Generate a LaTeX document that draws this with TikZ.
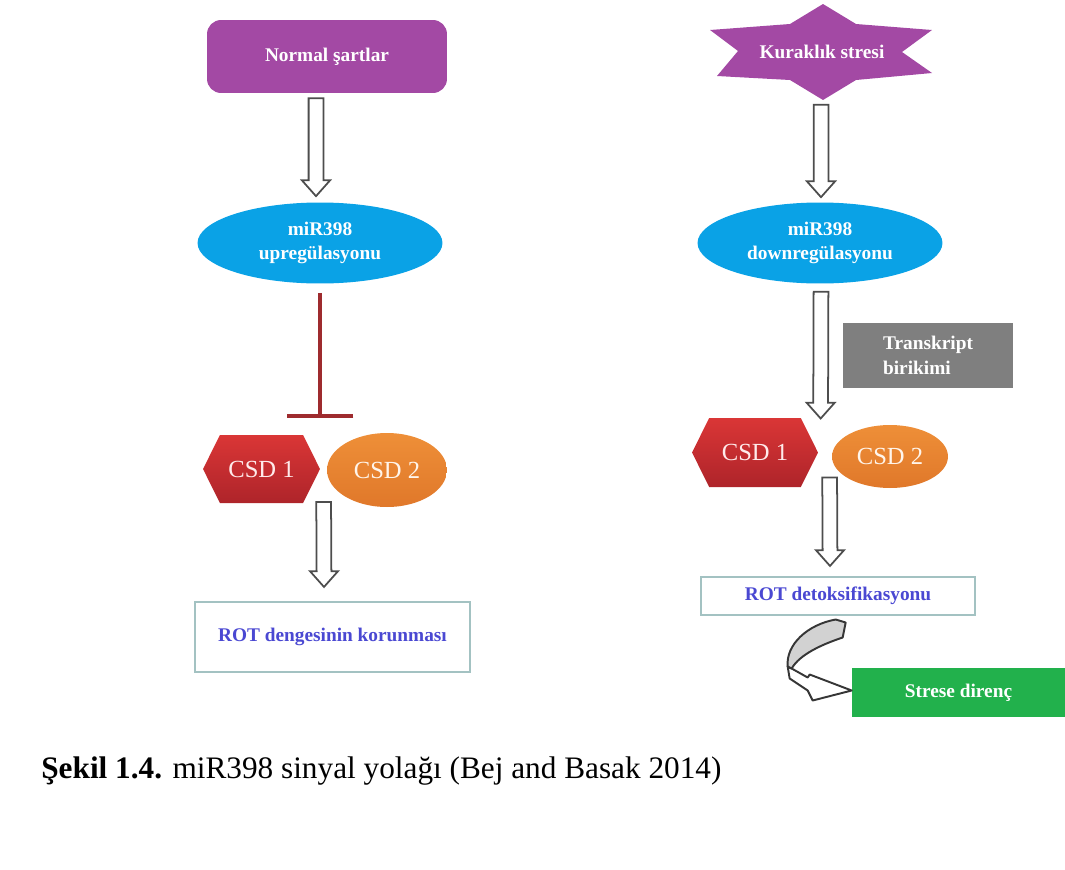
\documentclass[tikz,border=0pt]{standalone}
\usepackage{fontspec}
\setmainfont{Liberation Serif}
\usepackage{xcolor}
\usepackage{tikz}
\definecolor{mirPurple}{HTML}{A349A4}
\definecolor{mirBlue}{HTML}{0AA2E6}
\definecolor{csdRed}{HTML}{DA3636}
\definecolor{csdRedDark}{HTML}{AE242A}
\definecolor{csdOrange}{HTML}{EE8F38}
\definecolor{csdOrangeDark}{HTML}{E0782A}
\definecolor{inhibRed}{HTML}{9E2B2E}
\definecolor{arrowGray}{HTML}{4D4D4D}
\definecolor{boxTeal}{HTML}{A3C2C2}
\definecolor{rotBlue}{HTML}{4A48D2}
\definecolor{transGray}{HTML}{7F7F7F}
\definecolor{stressGreen}{HTML}{22B14C}
\usetikzlibrary{arrows.meta,positioning,shapes.geometric,shapes.symbols,calc}

\begin{document}
\begin{tikzpicture}[
  x=0.02cm, y=-0.02cm,
  >=Latex,
  label/.style={font=\fontsize{11}{14}\selectfont\bfseries, text=white, align=center, inner sep=0pt},
  startbox/.style={label, fill=mirPurple, rounded corners=8pt, minimum width=4.8cm, minimum height=1.46cm},
  mirnode/.style={label, ellipse, fill=mirBlue, minimum width=4.9cm, minimum height=1.62cm},
  csdhex/.style={signal, signal to=west and east, signal pointer angle=127,
    top color=csdRed, bottom color=csdRedDark, text=white!92!red,
    font=\fontsize{14}{16}\selectfont, minimum width=2.34cm, minimum height=1.36cm, inner sep=0pt},
  csdoval/.style={ellipse, top color=csdOrange, bottom color=csdOrangeDark, text=white!92!orange,
    font=\fontsize{14}{16}\selectfont, minimum width=2.4cm, minimum height=1.48cm, inner sep=0pt},
  rotbox/.style={draw=boxTeal, line width=1.2pt, text=rotBlue,
    font=\fontsize{11}{14}\selectfont\bfseries, inner sep=0pt},
  blockarrow/.style={draw=arrowGray, fill=white, line width=1pt, line join=miter,
    to path={([xshift=-4.2pt]\tikztostart) -- ([xshift=-4.2pt,yshift=9pt]\tikztotarget)
      -- ([xshift=-8pt,yshift=9pt]\tikztotarget) -- (\tikztotarget)
      -- ([xshift=8pt,yshift=9pt]\tikztotarget) -- ([xshift=4.2pt,yshift=9pt]\tikztotarget)
      -- ([xshift=4.2pt]\tikztostart) -- cycle}},
  inhibit/.style={draw=inhibRed, line width=2pt, -{Bar[width=38pt]}}
]
\useasboundingbox (0,0) rectangle (1065,869);

% left column: normal conditions
\node[startbox] (normal) at (327,56.5) {Normal şartlar};
\node[mirnode] (upreg) at (320,243) {miR398\\upregülasyonu};
\node[csdhex] (csd1l) at (261.5,469) {CSD 1};
\node[csdoval] (csd2l) at (387,470) {CSD 2};
\node[rotbox, minimum width=5.5cm, minimum height=1.4cm] (rotl) at (332.5,637) {ROT dengesinin korunması};

% right column: drought stress
\fill[mirPurple, shift={(822,52)}] (1,-48) -- (-32,-28) -- (-112,-22) -- (-84,-1) -- (-105,24)
  -- (-32,28) -- (1,48) -- (34,28) -- (110,21) -- (80,0) -- (110,-22) -- (34,-28) -- cycle;
\node[label, minimum width=4.54cm, minimum height=1.94cm] (stres) at (822,52) {Kuraklık stresi};
\node[mirnode] (downreg) at (820,243) {miR398\\downregülasyonu};
\node[label, align=left, fill=transGray, minimum width=3.4cm, minimum height=1.3cm] (transkript) at (928,355.5) {Transkript\\birikimi};
\node[csdhex, minimum width=2.52cm, minimum height=1.38cm] (csd1r) at (755,452.5) {CSD 1};
\node[csdoval, minimum width=2.32cm, minimum height=1.26cm] (csd2r) at (890,456.5) {CSD 2};
\node[rotbox, minimum width=5.48cm, minimum height=0.76cm] (rotdet) at (838,596) {ROT detoksifikasyonu};
\node[label, fill=stressGreen, minimum width=4.26cm, minimum height=0.98cm] (strese) at (958.5,692.5) {Strese direnç};

% arrows
\draw[blockarrow] ($(normal.south)+(-11,5)$) to ($(upreg.north)+(-4,-6)$);
\draw[inhibit] ($(upreg.south)+(0,9)$) -- ($(upreg.south |- csd1l.north)+(0,-17)$);
\draw[blockarrow] ($(csd2l.west)+(-3,32)$) to ($(rotl.north)+(-8.5,-14)$);
\draw[blockarrow] ($(stres.south)+(-1,4)$) to ($(downreg.north)+(1,-5)$);
\draw[blockarrow] ($(downreg.south)+(1,8)$) to ($(csd2r.west)+(-11,-38)$);
\draw[blockarrow] ($(csd2r.west)+(-2,21)$) to ($(rotdet.north)+(-8,-10)$);

% curved arrow to the green box
\begin{scope}[shift={(strese.west)}, draw=arrowGray!70!black, line width=1.1pt, line join=round]
  \filldraw[fill=white] (-60,-24) -- (-44,-15) -- (-42,-18) -- (0,-2) -- (-39,8) -- (-44,-2)
    -- (-62,-14) -- (-64,-26) -- cycle;
  \filldraw[fill=gray!35] (-16,-73) -- (-6,-70) -- (-9,-55) .. controls (-30,-48) and (-52,-38) .. (-60,-24)
    -- (-64,-26) .. controls (-66,-48) and (-44,-68) .. (-16,-73) -- cycle;
\end{scope}

\node[anchor=west, inner sep=0pt, font=\fontsize{17.8}{20}\selectfont] (caption) at (41,771)
  {\textbf{Şekil 1.4.} miR398 sinyal yolağı (Bej and Basak 2014)};

\end{tikzpicture}
\end{document}
